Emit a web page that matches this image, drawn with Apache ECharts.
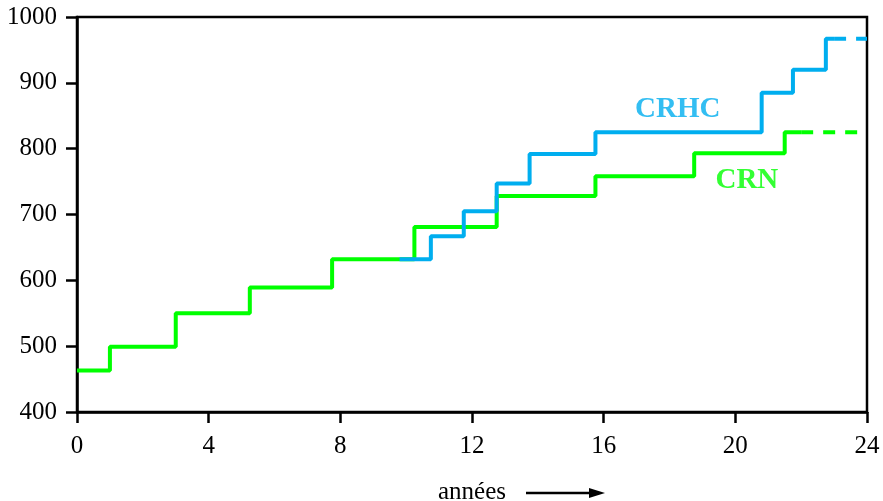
<!DOCTYPE html>
<html>
<head>
<meta charset="utf-8">
<script src="https://cdn.jsdelivr.net/npm/echarts@6/dist/echarts.min.js"></script>
<style>html,body{margin:0;padding:0;background:#fff}#c{width:883px;height:501px}</style>
</head>
<body>
<div id="c"></div>
<script>
// CRN (green) step changes: [year, value]
const crnYears  = [0, 1, 3, 5.25, 7.75, 10.25, 12.75, 15.75, 18.75, 21.5, 22];
const crnValues = [463, 499, 550, 589, 632, 681, 728, 758, 793, 825, 825];
const crnProjYears  = [22, 24];
const crnProjValues = [825, 825];

// CRHC (blue) step changes
const crhcYears  = [9.8, 10.75, 11.75, 12.75, 13.75, 15.75, 20.8, 21.75, 22.75, 23];
const crhcValues = [632, 667, 705, 747, 792, 825, 885, 920, 967, 967];
const crhcProjYears  = [23, 24];
const crhcProjValues = [967, 967];

const xTicks = [0, 4, 8, 12, 16, 20, 24];
const yTicks = [400, 500, 600, 700, 800, 900, 1000];

const labels = [
  {name: 'CRHC', x: 18.25, y: 859, color: '#00aeef'},
  {name: 'CRN',  x: 20.35, y: 752, color: '#00ff00'}
];

const zip = (a, b) => a.map((v, i) => [v, b[i]]);
const FONT = 'Liberation Serif';
const GREEN = '#00ff00', BLUE = '#00aeef';

const chart = echarts.init(document.getElementById('c'), null, {renderer: 'canvas'});
chart.setOption({
  animation: false,
  backgroundColor: '#fff',
  grid: {left: 77, right: 16, top: 17, bottom: 89, containLabel: false, outerBoundsMode: 'none',
         show: true, borderColor: '#000', borderWidth: 2.5, backgroundColor: 'transparent'},
  xAxis: {
    type: 'value', min: xTicks[0], max: xTicks[xTicks.length - 1], interval: 4,
    name: 'années', nameLocation: 'middle', nameGap: 80, nameMoveOverlap: false,
    nameTextStyle: {fontFamily: FONT, fontSize: 25, color: '#000', verticalAlign: 'middle'},
    axisLine: {show: true, onZero: false, lineStyle: {color: '#000', width: 2.5}},
    axisTick: {show: true, inside: false, length: 11, lineStyle: {color: '#000', width: 2.5}},
    axisLabel: {fontFamily: FONT, fontSize: 25, color: '#000', margin: 22, formatter: v => String(v)},
    splitLine: {show: false}
  },
  yAxis: {
    type: 'value', min: yTicks[0], max: yTicks[yTicks.length - 1], interval: 100,
    axisLine: {show: true, onZero: false, lineStyle: {color: '#000', width: 2.5}},
    axisTick: {show: true, inside: false, length: 11, lineStyle: {color: '#000', width: 2.5}},
    axisLabel: {fontFamily: FONT, fontSize: 25, color: '#000', margin: 20, formatter: v => String(v)},
    splitLine: {show: false}
  },
  series: [
    {type: 'line', step: 'end', data: zip(crnYears, crnValues), symbol: 'none', lineStyle: {color: GREEN, width: 4}, z: 3},
    {type: 'line', data: zip(crnProjYears, crnProjValues), symbol: 'none', lineStyle: {color: GREEN, width: 4, type: [12, 10]}, z: 3},
    {type: 'line', step: 'end', data: zip(crhcYears, crhcValues), symbol: 'none', lineStyle: {color: BLUE, width: 4}, z: 4},
    {type: 'line', data: zip(crhcProjYears, crhcProjValues), symbol: 'none', lineStyle: {color: BLUE, width: 4, type: [12, 10]}, z: 4},
    {type: 'scatter', symbolSize: 0, silent: true,
     data: labels.map(l => ({value: [l.x, l.y], name: l.name,
       label: {show: true, position: 'inside', formatter: l.name, color: l.color,
               fontFamily: FONT, fontWeight: 'bold', fontSize: 29}}))}
  ],
  graphic: [
    {type: 'line', shape: {x1: 526, y1: 493, x2: 595, y2: 493}, style: {stroke: '#000', lineWidth: 2.5}},
    {type: 'polygon', shape: {points: [[589, 488], [605, 493], [589, 498]]}, style: {fill: '#000'}}
  ]
});
</script>
</body>
</html>
